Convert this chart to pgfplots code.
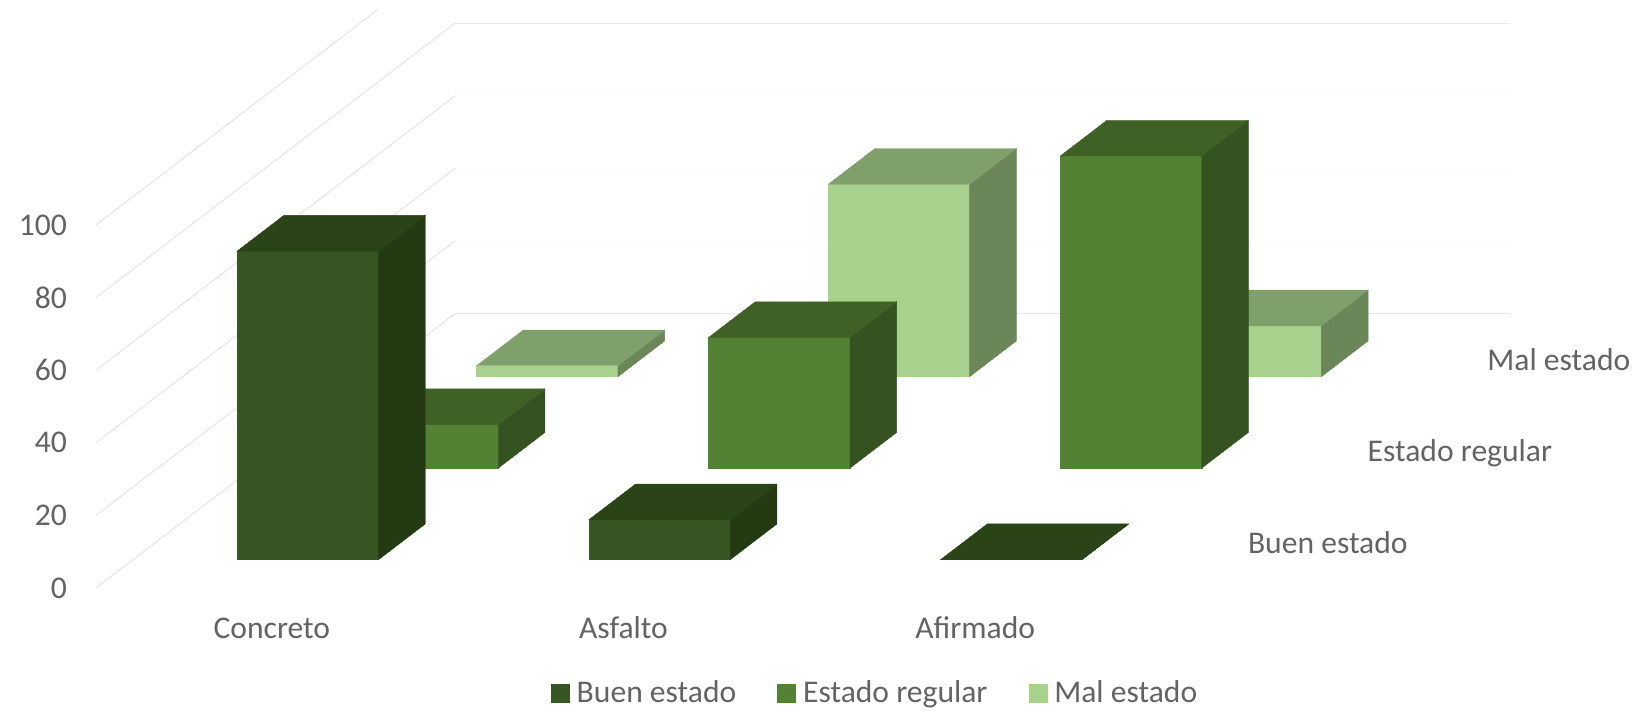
\documentclass[border=0pt]{standalone}
\usepackage{fontspec}
\setmainfont{Carlito}
\usepackage{pgfplots}
\pgfplotsset{compat=1.18}
\definecolor{buenF}{HTML}{375623}
\definecolor{buenT}{HTML}{2A4317}
\definecolor{buenS}{HTML}{243A13}
\definecolor{regF}{HTML}{548235}
\definecolor{regT}{HTML}{3F6126}
\definecolor{regS}{HTML}{355320}
\definecolor{malF}{HTML}{A9D18E}
\definecolor{malT}{HTML}{7F9F6B}
\definecolor{malS}{HTML}{6B8659}
\definecolor{txt}{HTML}{636363}
% x0 x1 y0 y1 value front top side
\newcommand{\cuboid}[8]{
  \addplot3[fill=#6,draw=#6,line width=0.2pt,forget plot] coordinates {(#1,#3,0)(#2,#3,0)(#2,#3,#5)(#1,#3,#5)} -- cycle;
  \addplot3[fill=#8,draw=#8,line width=0.2pt,forget plot] coordinates {(#2,#3,0)(#2,#4,0)(#2,#4,#5)(#2,#3,#5)} -- cycle;
  \addplot3[fill=#7,draw=#7,line width=0.2pt,forget plot] coordinates {(#1,#3,#5)(#2,#3,#5)(#2,#4,#5)(#1,#4,#5)} -- cycle;
}
% z, colour of the back line
\newcommand{\gridz}[2]{
  \addplot3[#2,line width=0.5pt,forget plot] coordinates {(0,3,#1)(3,3,#1)};
  \addplot3[gridc,line width=0.5pt,forget plot] coordinates {(0,0,#1)(0,3,#1)};
}
\definecolor{gridc}{HTML}{E4E4E4}
\begin{document}
\begin{tikzpicture}
\path[use as bounding box] (0,0) rectangle (819.5pt,355.5pt);
\begin{axis}[
  at={(48pt,61.5pt)}, anchor=origin,
  x={(175.85pt,0pt)}, y={(59.85pt,45.75pt)}, z={(0pt,1.815pt)},
  xmin=0, xmax=3, ymin=0, ymax=3, zmin=0, zmax=100,
  clip=false, no markers,
  axis line style={draw=none}, tick style={draw=none},
  major tick length=0pt,
  xtick={0.5,1.5,2.5}, xticklabels={Concreto,Asfalto,Afirmado},
  ytick={0.5,1.5,2.5}, yticklabels={Buen estado,Estado regular,Mal estado},
  ztick={0,20,40,60,80,100},
  xticklabel pos=lower, yticklabel pos=lower, zticklabel pos=lower,
  tick label style={font=\fontsize{15.8}{18}\selectfont, text=txt},
  /pgf/number format/assume math mode=true,
  xticklabel style={anchor=center, yshift=-20pt},
  yticklabel style={anchor=base west, xshift=15pt, yshift=-5.5pt},
  zticklabel style={anchor=east, xshift=-11pt},
  legend columns=3,
  legend style={at={(axis cs:2.218,0,-28.9)}, anchor=center, draw=none, fill=none,
    font=\fontsize{15.8}{18}\selectfont, text=txt,
    /tikz/every even column/.append style={column sep=18.5pt},
    /tikz/every odd column/.append style={column sep=1.5pt}},
  legend image code/.code={\fill[#1] (0pt,-4.5pt) rectangle (9pt,4.5pt);},
]
\addlegendimage{buenF}\addlegendentry{Buen estado}
\addlegendimage{regF}\addlegendentry{Estado regular}
\addlegendimage{malF}\addlegendentry{Mal estado}
% walls
\gridz{0}{gridc!80!white}
\gridz{20}{gridc!12!white}
\gridz{40}{gridc!8!white}
\gridz{60}{gridc!8!white}
\gridz{80}{gridc!80!white}
\addplot3[gridc,line width=0.5pt,forget plot] coordinates {(0,0,100)(0,2.35,100)};
% Mal estado
\cuboid{0.296}{0.698}{2.31}{2.70}{3}{malF}{malT}{malS}
\cuboid{1.296}{1.698}{2.31}{2.70}{53}{malF}{malT}{malS}
\cuboid{2.296}{2.698}{2.31}{2.70}{14}{malF}{malT}{malS}
% Estado regular
\cuboid{0.296}{0.698}{1.31}{1.70}{12}{regF}{regT}{regS}
\cuboid{1.296}{1.698}{1.31}{1.70}{36}{regF}{regT}{regS}
\cuboid{2.296}{2.698}{1.31}{1.70}{86}{regF}{regT}{regS}
% Buen estado
\cuboid{0.296}{0.698}{0.31}{0.70}{85}{buenF}{buenT}{buenS}
\cuboid{1.296}{1.698}{0.31}{0.70}{11}{buenF}{buenT}{buenS}
\cuboid{2.296}{2.698}{0.31}{0.70}{0}{buenF}{buenT}{buenS}
\end{axis}
\end{tikzpicture}
\end{document}
